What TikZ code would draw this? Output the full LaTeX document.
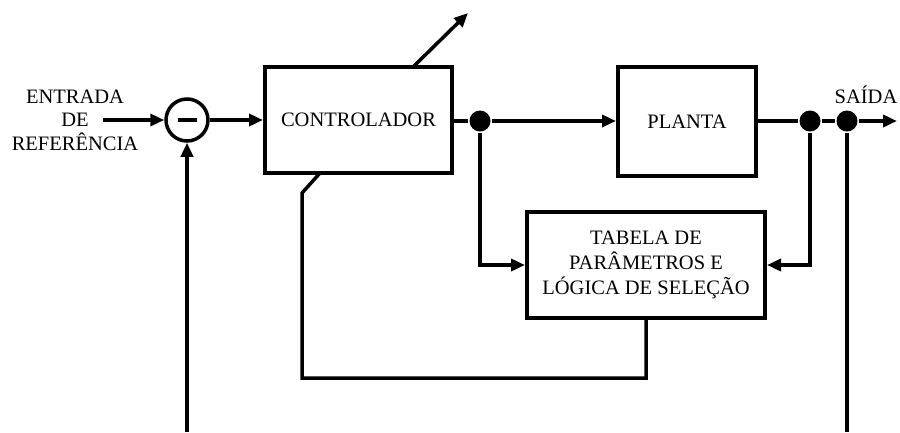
\documentclass[tikz,border=0pt]{standalone}
\usepackage{fontspec}
\setmainfont{Liberation Serif}
\usetikzlibrary{arrows.meta}
\begin{document}
\begin{tikzpicture}[x=1pt,y=-1pt,line width=3.5pt,
  txt/.style={font=\fontsize{20.5}{23.5}\selectfont, align=center, inner sep=0pt},
  blk/.style={draw, line width=4pt, rectangle, inner sep=0pt, txt},
  sumnode/.style={draw, circle, line width=3.5pt, minimum size=42pt, inner sep=0pt},
  dot/.style={circle, fill=black, minimum size=21pt, inner sep=0pt},
  arr/.style={-{Triangle[length=14pt,width=12pt]}}]
\useasboundingbox (0,0) rectangle (900,432);

% blocks
\node[sumnode] (sum) at (187,120) {};
\node[blk, minimum width=187pt, minimum height=106pt] (ctrl) at (358.5,120) {CONTROLADOR};
\node[blk, minimum width=138pt, minimum height=109pt] (planta) at (687,121.5) {PLANTA};
\node[blk, minimum width=238pt, minimum height=106pt, font=\fontsize{20.5}{25}\selectfont] (tab) at (646,265)
  {TABELA DE\\PAR\^AMETROS E\\L\'OGICA DE SELE\c{C}\~AO};

% labels
\node[txt] (ent) at (75,120) {ENTRADA\\DE\\REFER\^ENCIA};
\node[txt] (sai) at (866,95) {SA\'IDA};

% branch points
\node[dot] (d1) at (480,121) {};
\node[dot] (d2) at (810,121) {};
\node[dot] (d3) at (847,121) {};

% free ends
\coordinate (inp) at (103,120);
\coordinate (outp) at (897,121);
\coordinate (t0) at (413,67);
\coordinate (t1) at (468,13);
\coordinate (k0) at (320,173);
\coordinate (k1) at (302,193);
\coordinate (k2) at (302,378);
\coordinate (fbL) at (187,432);
\coordinate (fbR) at (847,432);

% minus sign of the summing junction
\draw[line width=4pt] ([xshift=-9.5pt]sum.center) -- ([xshift=9.5pt]sum.center);

% forward path
\draw[arr] (inp) -- (sum);
\draw[arr] (sum) -- (ctrl.west);
\draw (ctrl.east |- d1) -- (d1);
\draw[arr] (d1) -- (planta.west |- d1);
\draw (planta.east |- d2) -- (d2) -- (d3);
\draw[arr] (d3) -- (outp);

% adaptation loop
\draw[arr] (d1) |- (tab.west);
\draw[arr] (d2) |- (tab.east);
\draw (tab.south) |- (k2) -- (k1) -- (k0);
\draw[arr] (t0) -- (t1);

% feedback
\draw (d3) -- (fbR);
\draw[arr] (fbL) -- (sum.south);
\end{tikzpicture}
\end{document}
